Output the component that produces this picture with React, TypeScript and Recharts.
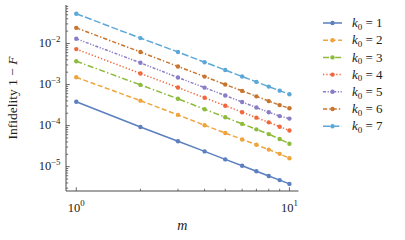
import { Line, LineChart, XAxis, YAxis } from "recharts";

const mValues = [1, 2, 3, 4, 5, 6, 7, 8, 9, 10];

const k0Labels = ["1", "2", "3", "4", "5", "6", "7"];

const infidelityK1 = [3.8e-4, 9.2e-5, 4.15e-5, 2.35e-5, 1.5e-5, 1.05e-5, 7.7e-6, 5.9e-6, 4.7e-6, 3.8e-6];
const infidelityK2 = [1.5e-3, 4.05e-4, 1.82e-4, 1.02e-4, 6.6e-5, 4.6e-5, 3.4e-5, 2.6e-5, 2.05e-5, 1.6e-5];
const infidelityK3 = [3.7e-3, 9.8e-4, 4.5e-4, 2.5e-4, 1.6e-4, 1.1e-4, 8.1e-5, 6.2e-5, 4.7e-5, 3.6e-5];
const infidelityK4 = [7.3e-3, 1.86e-3, 8.45e-4, 4.75e-4, 3.05e-4, 2.12e-4, 1.56e-4, 1.2e-4, 9.4e-5, 7.6e-5];
const infidelityK5 = [1.3e-2, 3.38e-3, 1.48e-3, 8.4e-4, 5.4e-4, 3.75e-4, 2.75e-4, 2.12e-4, 1.7e-4, 1.48e-4];
const infidelityK6 = [2.4e-2, 6.2e-3, 2.75e-3, 1.56e-3, 1.0e-3, 7.0e-4, 5.15e-4, 3.95e-4, 3.15e-4, 2.64e-4];
const infidelityK7 = [5.3e-2, 1.35e-2, 6.2e-3, 3.5e-3, 2.25e-3, 1.57e-3, 1.16e-3, 8.9e-4, 7.1e-4, 5.8e-4];

const xTicks = [1, 2, 3, 4, 5, 6, 7, 8, 9, 10];
const yTicks = [
  3e-6, 4e-6, 5e-6, 6e-6, 7e-6, 8e-6, 9e-6,
  1e-5, 2e-5, 3e-5, 4e-5, 5e-5, 6e-5, 7e-5, 8e-5, 9e-5,
  1e-4, 2e-4, 3e-4, 4e-4, 5e-4, 6e-4, 7e-4, 8e-4, 9e-4,
  1e-3, 2e-3, 3e-3, 4e-3, 5e-3, 6e-3, 7e-3, 8e-3, 9e-3,
  1e-2, 2e-2, 3e-2, 4e-2, 5e-2, 6e-2, 7e-2, 8e-2
];

const seriesValues = [
  infidelityK1,
  infidelityK2,
  infidelityK3,
  infidelityK4,
  infidelityK5,
  infidelityK6,
  infidelityK7
];

const seriesColors = ["#5b7fbf", "#efa43c", "#8dbb3c", "#f0673c", "#8a7dc6", "#c9742c", "#5ba8d8"];
const seriesDashes = ["", "5 2.6", "6 2.4 1.4 2.4", "1.3 2", "3 1.6 1.2 1.6 1.2 1.6", "4.2 2 1.4 2", "7 2.4"];

const FONT = "'Liberation Serif', 'Times New Roman', serif";
const AXIS = "#4a4a4a";

const chartData = mValues.map((m, i) => {
  const row: Record<string, number> = { m };
  seriesValues.forEach((values, s) => {
    row[`k${s + 1}`] = values[i];
  });
  return row;
});

function isDecade(v: number) {
  const l = Math.log10(v);
  return Math.abs(l - Math.round(l)) < 1e-9;
}

function expText(v: number) {
  const e = Math.round(Math.log10(v));
  return e < 0 ? `\u2212${-e}` : `${e}`;
}

function BottomTick(props: any) {
  const { x, y, payload } = props;
  const v = payload.value;
  const major = isDecade(v);
  return (
    <g>
      <line x1={x} x2={x} y1={y} y2={y - (major ? 3.8 : 2.2)} stroke={AXIS} strokeWidth={0.8} />
      {major && (
        <text x={x} y={y + 20.5} textAnchor="middle" fontFamily={FONT} fontSize={12.5} fill="#222">
          10
          <tspan dy={-5.5} fontSize={8.8}>
            {expText(v)}
          </tspan>
        </text>
      )}
    </g>
  );
}

function TopTick(props: any) {
  const { x, y, payload } = props;
  const major = isDecade(payload.value);
  return <line x1={x} x2={x} y1={y} y2={y + (major ? 3.8 : 2.2)} stroke={AXIS} strokeWidth={0.8} />;
}

function LeftTick(props: any) {
  const { x, y, payload } = props;
  const v = payload.value;
  const major = isDecade(v);
  return (
    <g>
      <line x1={x} x2={x + (major ? 3.8 : 2.2)} y1={y} y2={y} stroke={AXIS} strokeWidth={0.8} />
      {major && (
        <text x={x - 5.5} y={y + 3.8} textAnchor="end" fontFamily={FONT} fontSize={12.5} fill="#222">
          10
          <tspan dy={-5.5} fontSize={8.8}>
            {expText(v)}
          </tspan>
        </text>
      )}
    </g>
  );
}

function RightTick(props: any) {
  const { x, y, payload } = props;
  const major = isDecade(payload.value);
  return <line x1={x} x2={x - (major ? 3.8 : 2.2)} y1={y} y2={y} stroke={AXIS} strokeWidth={0.8} />;
}

function LegendBox() {
  return (
    <svg width={80} height={125} style={{ display: "block" }}>
      {k0Labels.map((label, i) => {
        const y = 9 + i * 17.2;
        return (
          <g key={label}>
            <line
              x1={2}
              x2={21}
              y1={y}
              y2={y}
              stroke={seriesColors[i]}
              strokeWidth={1.5}
              strokeDasharray={seriesDashes[i] || undefined}
            />
            <circle cx={11.5} cy={y} r={2.2} fill={seriesColors[i]} />
            <text x={31} y={y + 4.2} fontFamily={FONT} fontSize={13} fill="#222">
              <tspan fontStyle="italic">k</tspan>
              <tspan fontSize={9} dy={2.5}>0</tspan>
              <tspan dy={-2.5}>{` = ${label}`}</tspan>
            </text>
          </g>
        );
      })}
    </svg>
  );
}

export default function App() {
  return (
    <div style={{ position: "absolute", left: 0, top: 0, width: 405, height: 240, background: "#fff" }}>
      <LineChart width={405} height={240} data={chartData} margin={{ top: 5, right: 106.5, left: 0, bottom: 0 }}>
        <XAxis
          dataKey="m"
          type="number"
          scale="log"
          domain={[0.895, 11.03]}
          allowDataOverflow
          ticks={xTicks}
          interval={0}
          height={49}
          tickSize={0}
          tickMargin={0}
          tickLine={false}
          axisLine={{ stroke: AXIS, strokeWidth: 1 }}
          tick={<BottomTick />}
          label={(p: any) => {
            const vb = p.viewBox;
            return (
              <text x={vb.x + vb.width / 2} y={vb.y + 39} textAnchor="middle" fontFamily={FONT} fontSize={14} fontStyle="italic" fill="#222">
                m
              </text>
            );
          }}
        />
        <XAxis
          xAxisId="top"
          orientation="top"
          dataKey="m"
          type="number"
          scale="log"
          domain={[0.895, 11.03]}
          allowDataOverflow
          ticks={xTicks}
          interval={0}
          height={0}
          tickSize={0}
          tickMargin={0}
          tickLine={false}
          axisLine={{ stroke: AXIS, strokeWidth: 1 }}
          tick={<TopTick />}
        />
        <YAxis
          type="number"
          scale="log"
          domain={[2.55e-6, 0.0865]}
          allowDataOverflow
          ticks={yTicks}
          interval={0}
          width={66}
          tickSize={0}
          tickMargin={0}
          tickLine={false}
          axisLine={{ stroke: AXIS, strokeWidth: 1 }}
          tick={<LeftTick />}
          label={(p: any) => {
            const vb = p.viewBox;
            const cx = vb.x + 12;
            const cy = vb.y + vb.height / 2;
            return (
              <text
                x={cx}
                y={cy}
                textAnchor="middle"
                dominantBaseline="central"
                transform={`rotate(-90 ${cx} ${cy})`}
                fontFamily={FONT}
                fontSize={13.5}
                fill="#222"
              >
                Infidelity 1 {"\u2212"} <tspan fontStyle="italic">F</tspan>
              </text>
            );
          }}
        />
        <YAxis
          yAxisId="right"
          orientation="right"
          type="number"
          scale="log"
          domain={[2.55e-6, 0.0865]}
          allowDataOverflow
          ticks={yTicks}
          interval={0}
          width={0}
          tickSize={0}
          tickMargin={0}
          tickLine={false}
          axisLine={{ stroke: AXIS, strokeWidth: 1 }}
          tick={<RightTick />}
        />
        {k0Labels.map((label, i) => (
          <Line
            key={label}
            type="linear"
            dataKey={`k${i + 1}`}
            name={`k0 = ${label}`}
            stroke={seriesColors[i]}
            strokeWidth={1.5}
            strokeDasharray={seriesDashes[i] || undefined}
            dot={{ r: 2.2, fill: seriesColors[i], stroke: seriesColors[i], strokeWidth: 0 }}
            isAnimationActive={false}
          />
        ))}
      </LineChart>
      <div style={{ position: "absolute", left: 321, top: 14 }}>
        <LegendBox />
      </div>
    </div>
  );
}
